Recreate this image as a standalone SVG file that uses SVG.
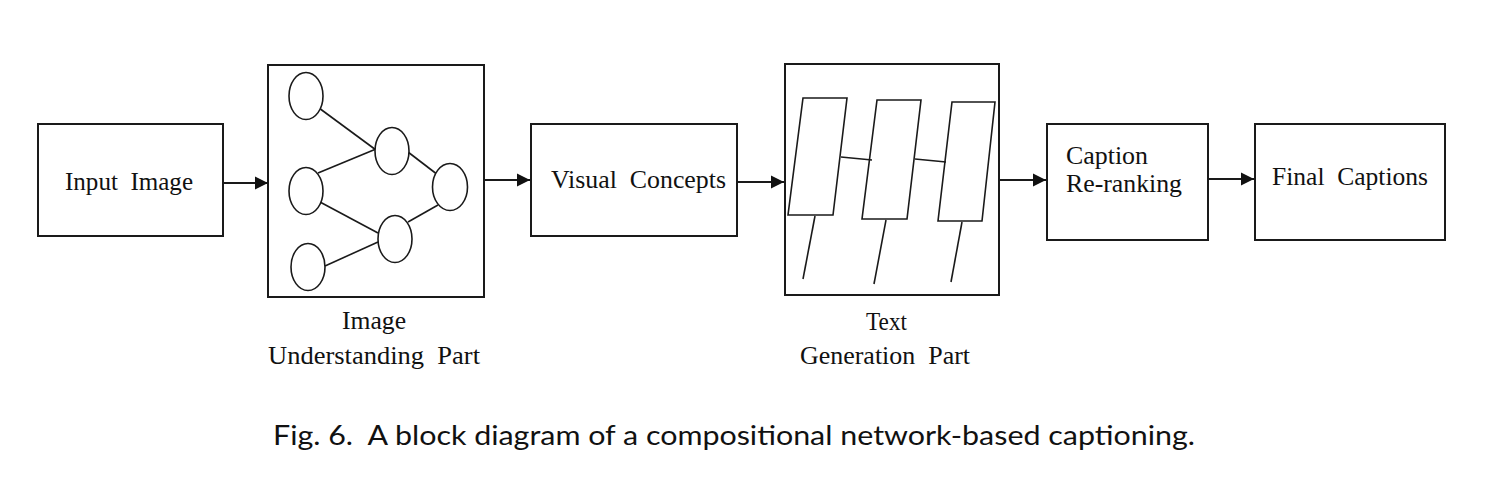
<svg xmlns="http://www.w3.org/2000/svg" width="1487" height="496" viewBox="0 0 1487 496">
<style>
.box{fill:#fff;stroke:#1a1a1a;stroke-width:2}
.thin{fill:none;stroke:#1a1a1a;stroke-width:1.6}
.node{fill:#fff;stroke:#1a1a1a;stroke-width:1.6}
.lbl{font-family:"Liberation Serif","Times New Roman",serif;font-size:26px;fill:#111;white-space:pre}
.cap{font-family:Lato,"Noto Sans",sans-serif;font-size:27px;fill:#111;white-space:pre}
.conn{fill:none;stroke:#1a1a1a;stroke-width:2}
</style>
<defs>
<marker id="arr" markerUnits="userSpaceOnUse" markerWidth="14" markerHeight="14" refX="13" refY="7" orient="auto">
<path d="M0,0.5 L13,7 L0,13.5 Z" fill="#111"/>
</marker>
</defs>
<rect width="1487" height="496" fill="#fff"/>

<g id="input-image">
<rect class="box" x="38" y="124" width="185" height="112"/>
<text class="lbl" xml:space="preserve" x="65" y="190" textLength="128" lengthAdjust="spacingAndGlyphs">Input  Image</text>
</g>

<g id="image-understanding">
<rect class="box" x="268" y="65" width="216" height="232"/>
<line class="thin" x1="319" y1="108" x2="376" y2="150"/>
<line class="thin" x1="318" y1="173" x2="376" y2="149"/>
<line class="thin" x1="320" y1="202" x2="378" y2="233"/>
<line class="thin" x1="325" y1="266" x2="378" y2="242"/>
<line class="thin" x1="408" y1="152" x2="438" y2="175"/>
<line class="thin" x1="408" y1="222" x2="438" y2="205"/>
<ellipse class="node" cx="306" cy="96" rx="17" ry="23.5"/>
<ellipse class="node" cx="306" cy="191" rx="17" ry="23.5"/>
<ellipse class="node" cx="308" cy="267" rx="17" ry="23.5"/>
<ellipse class="node" cx="392" cy="151" rx="17" ry="23.5"/>
<ellipse class="node" cx="395" cy="239" rx="17" ry="23.5"/>
<ellipse class="node" cx="450" cy="187" rx="17.5" ry="23.5"/>
<text class="lbl" x="342" y="329" textLength="64" lengthAdjust="spacingAndGlyphs">Image</text>
<text class="lbl" xml:space="preserve" x="268" y="364" textLength="212" lengthAdjust="spacingAndGlyphs">Understanding  Part</text>
</g>

<g id="visual-concepts">
<rect class="box" x="531" y="124" width="206" height="112"/>
<text class="lbl" xml:space="preserve" x="551" y="188" textLength="175" lengthAdjust="spacingAndGlyphs">Visual  Concepts</text>
</g>

<g id="text-generation">
<rect class="box" x="785" y="64" width="214" height="231"/>
<polygon class="node" points="803,98 847,98 833,215 788,215"/>
<polygon class="node" points="877,100 921,100 907,219 862,219"/>
<polygon class="node" points="952,102 995,102 982,221 938,221"/>
<line class="thin" x1="841" y1="157" x2="872" y2="160"/>
<line class="thin" x1="915" y1="159" x2="946" y2="162"/>
<line class="thin" x1="815" y1="216" x2="803" y2="279"/>
<line class="thin" x1="886" y1="220" x2="874" y2="284"/>
<line class="thin" x1="962" y1="222" x2="951" y2="282"/>
<text class="lbl" x="866" y="330" textLength="41" lengthAdjust="spacingAndGlyphs">Text</text>
<text class="lbl" xml:space="preserve" x="800" y="364" textLength="170" lengthAdjust="spacingAndGlyphs">Generation  Part</text>
</g>

<g id="caption-reranking">
<rect class="box" x="1047" y="124" width="161" height="116"/>
<text class="lbl" x="1066" y="164" textLength="82" lengthAdjust="spacingAndGlyphs">Caption</text>
<text class="lbl" x="1066" y="192" textLength="116" lengthAdjust="spacingAndGlyphs">Re-ranking</text>
</g>

<g id="final-captions">
<rect class="box" x="1255" y="124" width="190" height="116"/>
<text class="lbl" xml:space="preserve" x="1272" y="185" textLength="156" lengthAdjust="spacingAndGlyphs">Final  Captions</text>
</g>

<g id="connectors">
<line class="conn" x1="223" y1="183" x2="268" y2="183" marker-end="url(#arr)"/>
<line class="conn" x1="484" y1="180" x2="530" y2="180" marker-end="url(#arr)"/>
<line class="conn" x1="737" y1="182" x2="784" y2="182" marker-end="url(#arr)"/>
<line class="conn" x1="999" y1="180" x2="1046" y2="180" marker-end="url(#arr)"/>
<line class="conn" x1="1208" y1="179" x2="1254" y2="179" marker-end="url(#arr)"/>
</g>

<text class="cap" xml:space="preserve" x="273" y="445" textLength="922" lengthAdjust="spacingAndGlyphs">Fig. 6.  A block diagram of a compositional network-based captioning.</text>
</svg>
